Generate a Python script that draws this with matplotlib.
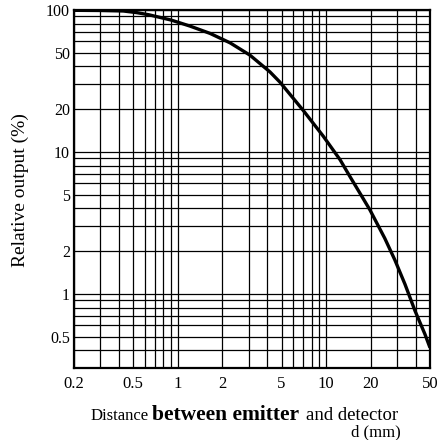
import matplotlib
matplotlib.use('Agg')
import matplotlib.pyplot as plt
from matplotlib.ticker import FixedLocator, FixedFormatter, LogLocator, NullFormatter

# Curve (distance in mm, relative output in %)
distance = [0.2, 0.3, 0.43, 0.53, 0.64, 0.9, 1.21, 1.65, 2.25, 3.06, 4.18, 4.88,
            7.0, 9.55, 12.4, 14.45, 16.9, 19.7, 24.8, 29.0, 33.9, 39.6, 46.2, 50]
output = [99.5, 99.2, 98.4, 95.8, 92.5, 85.0, 77.0, 68.4, 58.7, 48.1, 36.6, 31.0,
          19.6, 12.9, 8.8, 6.7, 5.1, 3.9, 2.46, 1.73, 1.17, 0.76, 0.52, 0.417]

x_ticks = [0.2, 0.5, 1, 2, 5, 10, 20, 50]
x_labels = ['0.2', '0.5', '1', '2', '5', '10', '20', '50']
y_ticks = [0.5, 1, 2, 5, 10, 20, 50, 100]
y_labels = ['0.5', '1', '2', '5', '10', '20', '50', '100']

plt.rcParams['font.family'] = ['Liberation Serif', 'DejaVu Serif']

fig = plt.figure(figsize=(4.48, 4.40), dpi=100)
ax = fig.add_axes([74/448, 72/440, 356/448, 358/440])

ax.plot(distance, output, color='black', lw=2.4, solid_joinstyle='round',
        solid_capstyle='butt', zorder=3)

ax.set_xscale('log')
ax.set_yscale('log')
ax.set_xlim(0.2, 50)
ax.set_ylim(0.3, 100)

ax.xaxis.set_major_locator(FixedLocator(x_ticks))
ax.xaxis.set_major_formatter(FixedFormatter(x_labels))
ax.yaxis.set_major_locator(FixedLocator(y_ticks))
ax.yaxis.set_major_formatter(FixedFormatter(y_labels))
ax.xaxis.set_minor_locator(LogLocator(base=10, subs=range(1, 10), numticks=20))
ax.yaxis.set_minor_locator(LogLocator(base=10, subs=range(1, 10), numticks=20))
ax.xaxis.set_minor_formatter(NullFormatter())
ax.yaxis.set_minor_formatter(NullFormatter())

ax.grid(True, which='both', color='black', lw=0.9)
ax.tick_params(which='both', length=0)
ax.tick_params(axis='x', pad=6, labelsize=12)
ax.tick_params(axis='y', pad=3, labelsize=11.5)
for s in ax.spines.values():
    s.set_linewidth(1.6)

fig.text(20/448, 1 - 190/440, 'Relative output (%)', fontsize=14,
         rotation=90, ha='center', va='center')

# x label in pieces like the datasheet
fig.text(91/448, 1 - 420/440, 'Distance', fontsize=12, va='baseline')
fig.text(152/448, 1 - 420/440, 'between emitter', fontsize=15.5,
         fontweight='bold', va='baseline')
fig.text(306/448, 1 - 420/440, 'and detector', fontsize=13.5, va='baseline')
fig.text(376/448, 1 - 436/440, 'd (mm)', fontsize=12, va='baseline', ha='center')

plt.savefig('out.png', dpi=100)
